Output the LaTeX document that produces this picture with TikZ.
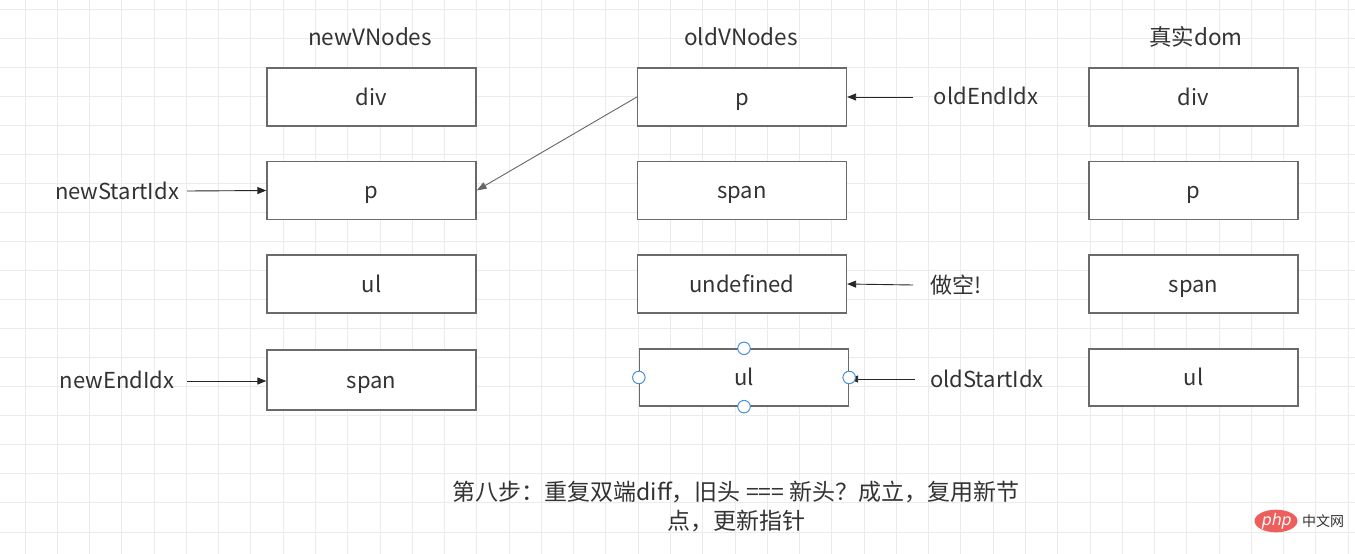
\documentclass[tikz,border=0pt]{standalone}
\usepackage{fontspec}
\setmainfont{Noto Sans CJK SC}
\newfontfamily\phpfont[FakeSlant=0.2]{Noto Sans}
\usetikzlibrary{arrows.meta,shapes.geometric}
\definecolor{gridA}{HTML}{EBEBEB}
\definecolor{boxline}{HTML}{6A6A6A}
\definecolor{txt}{HTML}{333333}
\definecolor{handle}{HTML}{4A90D9}
\definecolor{phpred}{HTML}{EC5F5D}
\tikzset{
  vbox/.style={draw=boxline, line width=1.3pt, fill=white, minimum width=209pt, minimum height=58pt, inner sep=0pt, font=\fontsize{22}{26}\selectfont, text=txt, text height=16pt, text depth=0pt},
  lbl/.style={font=\fontsize{22}{26}\selectfont, text=txt, inner sep=0pt, text height=16pt, text depth=0pt},
  ttl/.style={lbl, font=\fontsize{22.5}{26}\selectfont},
  captxt/.style={lbl, font=\fontsize{23}{26}\selectfont},
  arr/.style={draw=black!85, line width=0.9pt, -{Triangle[length=9pt,width=7pt]}},
  darr/.style={draw=black!60, line width=0.9pt, -{Triangle[length=10pt,width=7pt]}},
  hdl/.style={circle, draw=handle, line width=1pt, fill=white, minimum size=12.5pt, inner sep=0pt},
}
\begin{document}
\begin{tikzpicture}[x=1pt,y=-1pt]
\useasboundingbox (0,0) rectangle (1355,554);
\fill[white] (0,0) rectangle (1355,554);
% grid
\foreach \i in {0,...,41} {
  \draw[gridA, line width=0.8pt] ({25+32.27*\i},0) -- ({25+32.27*\i},554);
}
\foreach \j in {0,...,18} {
  \draw[gridA, line width=0.8pt] (0,{9+29.05*\j}) -- (1355,{9+29.05*\j});
}
% titles
\node[ttl] (tnew) at (370,37) {newVNodes};
\node[ttl] (told) at (741,37) {oldVNodes};
\node[ttl] (tdom) at (1196,37) {真实dom};
% new vnodes
\node[vbox] (n1) at (371.5,97) {div};
\node[vbox] (n2) at (371.5,190.5) {p};
\node[vbox] (n3) at (371.5,284) {ul};
\node[vbox, minimum height=60pt] (n4) at (371.5,380) {span};
% old vnodes
\node[vbox] (o1) at (742,97) {p};
\node[vbox] (o2) at (742,190.5) {span};
\node[vbox] (o3) at (742,284) {undefined};
\node[vbox, minimum height=57pt] (o4) at (744,377.5) {ul};
% real dom
\node[vbox] (d1) at (1193.5,97) {div};
\node[vbox] (d2) at (1193.5,190.5) {p};
\node[vbox] (d3) at (1193.5,284) {span};
\node[vbox, minimum height=57pt] (d4) at (1193.5,377.5) {ul};
% labels
\node[lbl] (ns) at (117,191) {newStartIdx};
\node[lbl] (ne) at (117,380) {newEndIdx};
\node[lbl] (oe) at (986,96) {oldEndIdx};
\node[lbl] (ok) at (956,285) {做空!};
\node[lbl] (os) at (987,379) {oldStartIdx};
\coordinate (nsA) at (187,191);
\coordinate (neA) at (187,381);
\coordinate (oeA) at (913,97);
\coordinate (okA) at (913,285);
\coordinate (osA) at (915,379);
\draw[arr] (nsA) -- (n2.west);
\draw[arr] (neA) -- (neA -| n4.west);
\draw[arr] (oeA) -- (o1.east);
\draw[arr] (okA) -- (o3.east);
\draw[arr] (osA) -- (osA -| o4.east);
\draw[darr] (o1.west) -- (n2.east);
% handles
\node[hdl] (h1) at (o4.north) {};
\node[hdl] (h2) at (o4.south) {};
\node[hdl] (h3) at (o4.west) {};
\node[hdl] (h4) at (o4.east) {};
% caption
\node[captxt] (c1) at (736,492) {第八步：重复双端diff，旧头 === 新头？成立，复用新节};
\node[captxt] (c2) at (736,521) {点，更新指针};
% watermark
\node[ellipse, fill=phpred, minimum width=43pt, minimum height=21pt, inner sep=0pt, text=white, font=\phpfont\fontsize{16}{16}\selectfont] (wm) at (1276,521) {php};
\node[font=\fontsize{14}{16}\selectfont, text=black!80, inner sep=0pt, anchor=west] (wm2) at (1302,521) {中文网};
\end{tikzpicture}
\end{document}
